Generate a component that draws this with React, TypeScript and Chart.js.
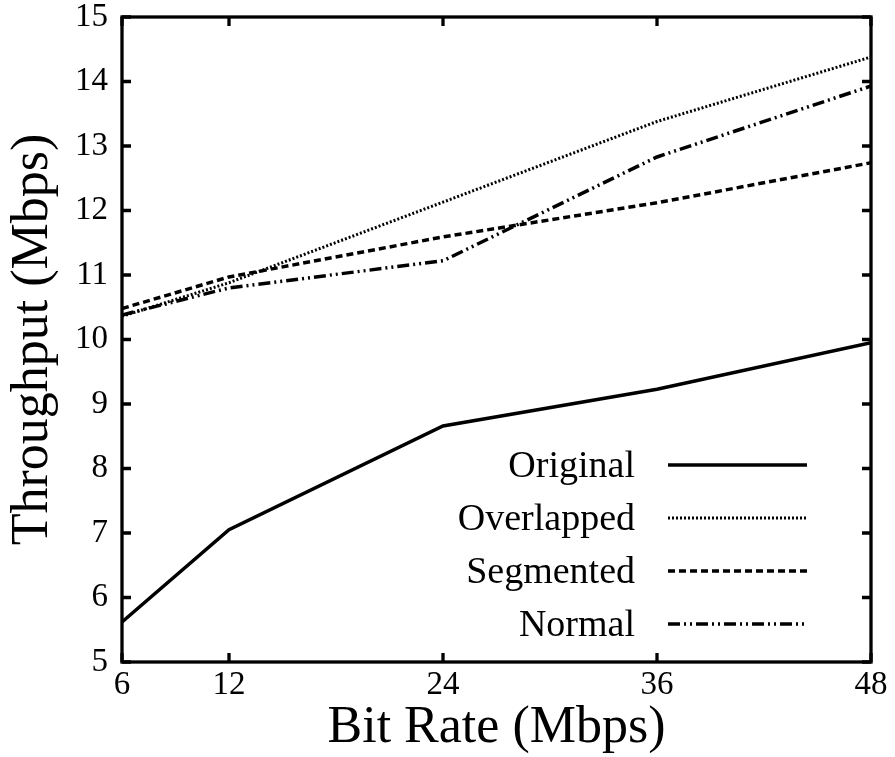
import React, { useEffect, useRef } from "react";
import { Chart, registerables } from "chart.js";

Chart.register(...registerables);

const bitRates = [6, 12, 24, 36, 48];
const xTicks = [6, 12, 24, 36, 48];
const seriesLabels = ["Original", "Overlapped", "Segmented", "Normal"];
const original = [5.62, 7.05, 8.66, 9.23, 9.95];
const overlapped = [10.36, 10.88, 12.13, 13.38, 14.38];
const segmented = [10.48, 10.97, 11.59, 12.12, 12.74];
const normal = [10.38, 10.8, 11.22, 12.83, 13.93];
const yMin = 5;
const yMax = 15;

const SERIF = "'Liberation Serif', 'DejaVu Serif', serif";

const dashes: number[][] = [[], [2, 2], [7, 4], [12, 4, 2, 4, 2, 4]];
const widths = [3.5, 3, 3.5, 3.5];

const framePlugin = {
  id: "frameAndLegend",
  afterDatasetsDraw(chart: any) {
    const { ctx, chartArea } = chart;
    const xs = chart.scales.x;
    const ys = chart.scales.y;
    const { left, right, top, bottom } = chartArea;
    ctx.save();
    ctx.strokeStyle = "#000";
    ctx.lineWidth = 3.3;
    ctx.setLineDash([]);
    ctx.lineCap = "butt";
    ctx.strokeRect(left, top, right - left, bottom - top);
    const tl = 9;
    ctx.beginPath();
    for (const t of xTicks) {
      const px = xs.getPixelForValue(t);
      ctx.moveTo(px, bottom);
      ctx.lineTo(px, bottom - tl);
      ctx.moveTo(px, top);
      ctx.lineTo(px, top + tl);
    }
    for (let v = yMin; v <= yMax; v++) {
      const py = ys.getPixelForValue(v);
      ctx.moveTo(left, py);
      ctx.lineTo(left + tl, py);
      ctx.moveTo(right, py);
      ctx.lineTo(right - tl, py);
    }
    ctx.stroke();

    // legend
    const textRight = right - 236;
    const lineStart = right - 203;
    const lineEnd = right - 64;
    const firstRow = top + 448;
    const rowGap = 53;
    ctx.font = `38px ${SERIF}`;
    ctx.fillStyle = "#000";
    ctx.textAlign = "right";
    ctx.textBaseline = "middle";
    chart.data.datasets.forEach((ds: any, i: number) => {
      const y = firstRow + i * rowGap;
      ctx.fillText(ds.label, textRight, y + 2);
      ctx.beginPath();
      ctx.lineWidth = ds.borderWidth;
      ctx.setLineDash(ds.borderDash || []);
      ctx.moveTo(lineStart, y);
      ctx.lineTo(lineEnd, y);
      ctx.stroke();
    });
    ctx.restore();
  },
};

export default function App() {
  const ref = useRef<HTMLCanvasElement | null>(null);
  useEffect(() => {
    if (!ref.current) return;
    const seriesValues = [original, overlapped, segmented, normal];
    const chart = new Chart(ref.current, {
      type: "line",
      data: {
        datasets: seriesLabels.map((label, i) => ({
          label,
          data: bitRates.map((x, j) => ({ x, y: seriesValues[i][j] })),
          borderColor: "#000",
          backgroundColor: "#000",
          borderWidth: widths[i],
          borderDash: dashes[i],
          pointRadius: 0,
          tension: 0,
          fill: false,
        })),
      },
      options: {
        responsive: false,
        animation: false,
        layout: { padding: { top: 17, right: 24, left: 0, bottom: 0 } },
        plugins: {
          legend: { display: false },
          tooltip: { enabled: false },
        },
        scales: {
          x: {
            type: "linear",
            min: 6,
            max: 48,
            grid: { display: false, drawTicks: false },
            border: { display: false },
            afterBuildTicks: (s: any) => {
              s.ticks = xTicks.map((v) => ({ value: v }));
            },
            afterFit: (s: any) => {
              s.height = 95;
              s.paddingLeft = 0;
              s.paddingRight = 0;
            },
            ticks: {
              color: "#000",
              padding: 7,
              maxRotation: 0,
              autoSkip: false,
              font: { family: SERIF, size: 33, lineHeight: 1 },
            },
            title: {
              display: true,
              text: "Bit Rate (Mbps)",
              color: "#000",
              font: { family: SERIF, size: 52, lineHeight: 1 },
              padding: { top: 0, bottom: 3 },
            },
          },
          y: {
            type: "linear",
            min: yMin,
            max: yMax,
            grid: { display: false, drawTicks: false },
            border: { display: false },
            afterFit: (s: any) => {
              s.width = 122;
              s.paddingTop = 0;
              s.paddingBottom = 0;
            },
            ticks: {
              stepSize: 1,
              color: "#000",
              padding: 14,
              font: { family: SERIF, size: 33, lineHeight: 1 },
            },
            title: {
              display: true,
              text: "Throughput (Mbps)",
              color: "#000",
              font: { family: SERIF, size: 52, lineHeight: 1 },
              padding: { top: 7, bottom: 0 },
            },
          },
        },
      },
      plugins: [framePlugin],
    });
    return () => chart.destroy();
  }, []);
  return (
    <div style={{ position: "absolute", left: 0, top: 0, width: 895, height: 757, background: "#fff" }}>
      <canvas ref={ref} width={895} height={757} style={{ display: "block" }} />
    </div>
  );
}
